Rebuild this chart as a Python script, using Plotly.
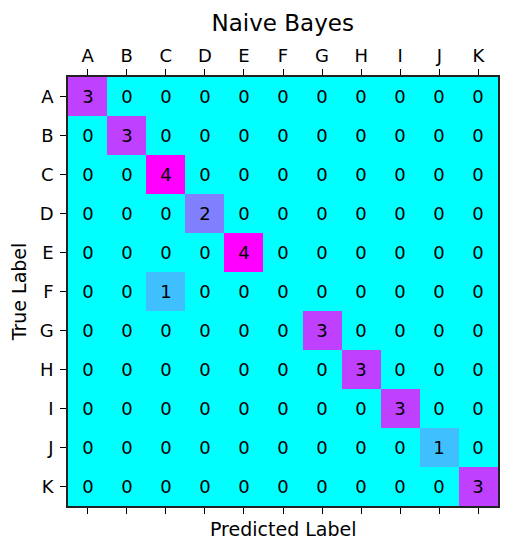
import plotly.graph_objects as go

labels = ["A", "B", "C", "D", "E", "F", "G", "H", "I", "J", "K"]
true_labels = labels
pred_labels = labels
matrix = [
    [3, 0, 0, 0, 0, 0, 0, 0, 0, 0, 0],
    [0, 3, 0, 0, 0, 0, 0, 0, 0, 0, 0],
    [0, 0, 4, 0, 0, 0, 0, 0, 0, 0, 0],
    [0, 0, 0, 2, 0, 0, 0, 0, 0, 0, 0],
    [0, 0, 0, 0, 4, 0, 0, 0, 0, 0, 0],
    [0, 0, 1, 0, 0, 0, 0, 0, 0, 0, 0],
    [0, 0, 0, 0, 0, 0, 3, 0, 0, 0, 0],
    [0, 0, 0, 0, 0, 0, 0, 3, 0, 0, 0],
    [0, 0, 0, 0, 0, 0, 0, 0, 3, 0, 0],
    [0, 0, 0, 0, 0, 0, 0, 0, 0, 1, 0],
    [0, 0, 0, 0, 0, 0, 0, 0, 0, 0, 3],
]
title = "Naive Bayes"
x_title = "Predicted Label"
y_title = "True Label"

FONT = "DejaVu Sans"

fig = go.Figure(
    go.Heatmap(
        z=matrix,
        x=pred_labels,
        y=true_labels,
        colorscale=[[0, "rgb(0,255,255)"], [1, "rgb(255,0,255)"]],
        zmin=0,
        zmax=4,
        showscale=False,
        text=[[str(v) for v in row] for row in matrix],
        texttemplate="%{text}",
        textfont=dict(family=FONT, size=18, color="black"),
        hoverinfo="skip",
    )
)

fig.update_layout(
    width=514,
    height=550,
    margin=dict(l=68, r=16, t=77, b=44),
    paper_bgcolor="white",
    plot_bgcolor="white",
    font=dict(family=FONT, color="black"),
    title=dict(
        text=title,
        font=dict(family=FONT, size=23, color="black"),
        x=0.55, xanchor="center", y=0.958, yanchor="middle",
    ),
    xaxis=dict(
        side="top",
        type="category",
        categoryorder="array",
        categoryarray=pred_labels,
        automargin=False,
        ticks="outside",
        ticklen=6,
        tickwidth=1.2,
        tickcolor="black",
        tickfont=dict(family=FONT, size=18, color="black"),
        showline=True,
        linecolor="#222",
        linewidth=1.5,
        mirror="ticks",
        showgrid=False,
        zeroline=False,
    ),
    yaxis=dict(
        type="category",
        categoryorder="array",
        categoryarray=true_labels,
        autorange="reversed",
        automargin=False,
        ticks="outside",
        ticklen=6,
        tickwidth=1.2,
        tickcolor="black",
        tickfont=dict(family=FONT, size=18, color="black"),
        ticklabelstandoff=3,
        showline=True,
        linecolor="#222",
        linewidth=1.5,
        mirror=True,
        showgrid=False,
        zeroline=False,
        title=dict(text=y_title, font=dict(family=FONT, size=19, color="black"), standoff=8),
    ),
    annotations=[
        dict(
            text=x_title,
            xref="paper", yref="paper",
            x=0.5, y=0, yshift=-23,
            xanchor="center", yanchor="middle",
            showarrow=False,
            font=dict(family=FONT, size=19, color="black"),
        )
    ],
)

fig.write_html(
    "out.html",
    config={"displayModeBar": False},
    post_script="document.body.style.margin='0';document.body.style.overflow='hidden';",
)
